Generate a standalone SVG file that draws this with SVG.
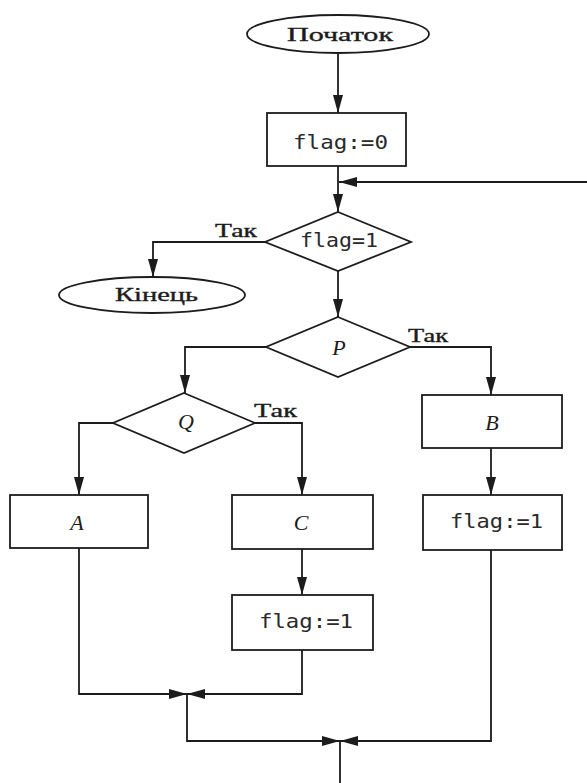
<svg xmlns="http://www.w3.org/2000/svg" width="587" height="783" viewBox="0 0 587 783">
  <style>
    .shape { fill: #ffffff; stroke: #1c1c1c; stroke-width: 1.8; }
    .line { fill: none; stroke: #1c1c1c; stroke-width: 1.8; }
    .arrow { marker-end: url(#head); }
    .serif { font-family: "Liberation Serif", "DejaVu Serif", serif; font-size: 18px; fill: #1c1c1c; stroke: #1c1c1c; stroke-width: 0.35; }
    .label { font-family: "Liberation Serif", "DejaVu Serif", serif; font-size: 18px; fill: #1c1c1c; stroke: #1c1c1c; stroke-width: 0.35; }
    .var { font-family: "Liberation Serif", "DejaVu Serif", serif; font-style: italic; font-size: 22px; fill: #1c1c1c; text-anchor: middle; }
    .mono { font-family: "DejaVu Sans Mono", "Liberation Mono", monospace; font-size: 19px; fill: #2a2a2a; }
  </style>
  <defs>
    <marker id="head" markerUnits="userSpaceOnUse" markerWidth="18" markerHeight="10" refX="18" refY="5" orient="auto">
      <path d="M0,0 L18,5 L0,10 z" fill="#1c1c1c"/>
    </marker>
  </defs>
  <rect width="587" height="783" fill="#ffffff"/>

  <!-- connectors -->
  <g id="connectors">
    <path class="line arrow" d="M338,53 V113"/>
    <path class="line arrow" d="M338,166 V212"/>
    <path class="line arrow" d="M587,182 H339"/>
    <path class="line arrow" d="M265,242 H153 V277"/>
    <path class="line arrow" d="M338,271 V317"/>
    <path class="line arrow" d="M266,347 H185 V393"/>
    <path class="line arrow" d="M410,347 H491 V395"/>
    <path class="line arrow" d="M113,423 H79 V495"/>
    <path class="line arrow" d="M255,423 H302 V495"/>
    <path class="line arrow" d="M491,448 V495"/>
    <path class="line arrow" d="M302,549 V595"/>
    <path class="line arrow" d="M79,548 V694 H187"/>
    <path class="line arrow" d="M302,650 V694 H187"/>
    <path class="line arrow" d="M187,694 V741 H340"/>
    <path class="line arrow" d="M491,550 V741 H340"/>
    <path class="line" d="M340,741 V783"/>
    <text class="label" x="215" y="237" textLength="42" lengthAdjust="spacingAndGlyphs">Так</text>
    <text class="label" x="408" y="342" textLength="40" lengthAdjust="spacingAndGlyphs">Так</text>
    <text class="label" x="254" y="417" textLength="43" lengthAdjust="spacingAndGlyphs">Так</text>
  </g>

  <!-- start terminal -->
  <g id="start">
    <ellipse class="shape" cx="338" cy="34" rx="91" ry="19"/>
    <text class="serif" x="287" y="41" textLength="106" lengthAdjust="spacingAndGlyphs">Початок</text>
  </g>

  <g id="init">
    <rect class="shape" x="267" y="113" width="139" height="53"/>
    <text class="mono" x="293" y="149" textLength="95" lengthAdjust="spacingAndGlyphs">flag:=0</text>
  </g>

  <g id="check-flag">
    <polygon class="shape" points="338,212 411,242 338,271 265,242"/>
    <text class="mono" x="300" y="247" textLength="78" lengthAdjust="spacingAndGlyphs">flag=1</text>
  </g>

  <g id="end">
    <ellipse class="shape" cx="152" cy="295" rx="93" ry="18"/>
    <text class="serif" x="115" y="301" textLength="83" lengthAdjust="spacingAndGlyphs">Кінець</text>
  </g>

  <g id="cond-p">
    <polygon class="shape" points="338,317 410,347 338,377 266,347"/>
    <text class="var" x="339" y="355">P</text>
  </g>

  <g id="cond-q">
    <polygon class="shape" points="184,393 255,423 184,453 113,423"/>
    <text class="var" x="186" y="429">Q</text>
  </g>

  <g id="action-b">
    <rect class="shape" x="422" y="395" width="140" height="53"/>
    <text class="var" x="492" y="430">B</text>
  </g>

  <g id="action-a">
    <rect class="shape" x="10" y="495" width="138" height="53"/>
    <text class="var" x="77" y="530">A</text>
  </g>

  <g id="action-c">
    <rect class="shape" x="232" y="495" width="141" height="54"/>
    <text class="var" x="301" y="530">C</text>
  </g>

  <g id="set-flag-b">
    <rect class="shape" x="423" y="495" width="139" height="55"/>
    <text class="mono" x="450" y="528" textLength="93" lengthAdjust="spacingAndGlyphs">flag:=1</text>
  </g>

  <g id="set-flag-c">
    <rect class="shape" x="232" y="595" width="141" height="55"/>
    <text class="mono" x="259" y="628" textLength="94" lengthAdjust="spacingAndGlyphs">flag:=1</text>
  </g>
</svg>
